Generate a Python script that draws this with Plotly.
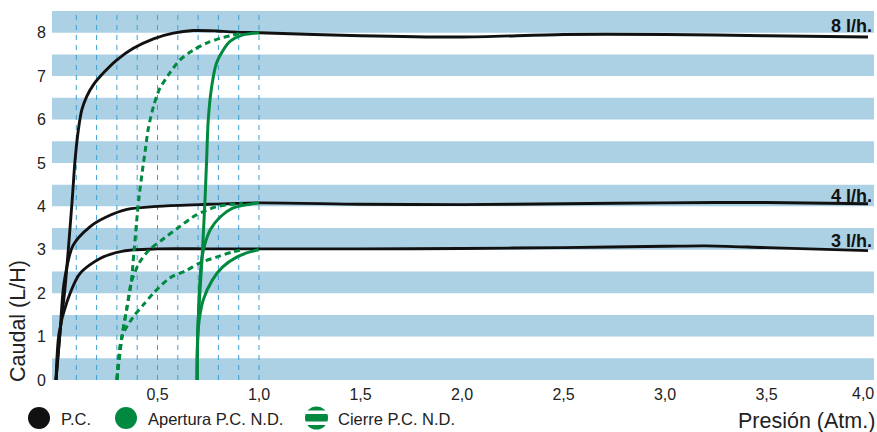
import plotly.graph_objects as go

# ---- data ----
pc8_x = [0.0, 0.02, 0.044, 0.079, 0.094, 0.11, 0.127, 0.151, 0.184, 0.233, 0.299, 0.381, 0.48, 0.578, 0.676, 0.79, 0.857, 1.0, 1.5, 2.0, 2.5, 3.0, 3.5, 4.0]
pc8_y = [0.0, 1.1, 2.1, 4.1, 5.07, 5.76, 6.22, 6.53, 6.80, 7.07, 7.37, 7.64, 7.86, 7.99, 8.05, 8.04, 8.02, 8.0, 7.93, 7.9, 7.96, 7.96, 7.93, 7.9]
pc4_x = [0.0, 0.02, 0.04, 0.084, 0.167, 0.25, 0.35, 0.5, 0.71, 1.0, 1.5, 2.0, 2.5, 3.0, 3.5, 4.0]
pc4_y = [0.0, 1.1, 2.25, 3.1, 3.53, 3.76, 3.93, 4.0, 4.04, 4.08, 4.05, 4.04, 4.06, 4.08, 4.09, 4.06]
pc3_x = [0.0, 0.015, 0.054, 0.118, 0.217, 0.33, 0.5, 0.75, 1.0, 1.5, 2.0, 2.5, 3.0, 3.2, 3.5, 4.0]
pc3_y = [0.0, 1.08, 1.8, 2.45, 2.8, 2.97, 3.02, 3.02, 3.02, 3.02, 3.03, 3.05, 3.08, 3.09, 3.05, 2.98]

ap8_x = [0.695, 0.70, 0.72, 0.734, 0.742, 0.75, 0.767, 0.79, 0.824, 0.857, 0.92, 1.0]
ap8_y = [0.0, 1.3, 2.85, 4.15, 5.07, 5.99, 6.76, 7.29, 7.6, 7.8, 7.95, 8.0]
ap4_x = [0.695, 0.70, 0.72, 0.76, 0.81, 0.87, 0.955, 1.0]
ap4_y = [0.0, 1.3, 2.85, 3.46, 3.76, 3.96, 4.05, 4.08]
ap3_x = [0.695, 0.70, 0.725, 0.77, 0.82, 0.89, 0.955, 1.0]
ap3_y = [0.0, 1.15, 1.84, 2.3, 2.6, 2.83, 2.95, 3.0]

ci8_x = [0.30, 0.325, 0.35, 0.37, 0.385, 0.40, 0.41, 0.425, 0.44, 0.455, 0.48, 0.51, 0.56, 0.61, 0.676, 0.742, 0.808, 0.857, 0.92]
ci8_y = [0.0, 1.0, 1.68, 2.23, 3.0, 3.8, 4.25, 4.8, 5.3, 5.8, 6.3, 6.7, 7.07, 7.37, 7.6, 7.76, 7.87, 7.93, 8.0]
ci4_x = [0.30, 0.325, 0.35, 0.37, 0.41, 0.46, 0.52, 0.60, 0.69, 0.79, 0.87, 0.92]
ci4_y = [0.0, 1.0, 1.68, 2.23, 2.7, 3.0, 3.22, 3.5, 3.8, 3.99, 4.05, 4.07]
ci3_x = [0.30, 0.325, 0.38, 0.43, 0.48, 0.56, 0.645, 0.71, 0.79, 0.87, 0.92]
ci3_y = [0.0, 1.0, 1.45, 1.73, 2.0, 2.35, 2.53, 2.7, 2.83, 2.95, 3.0]

x_tickvals = [0.5, 1.0, 1.5, 2.0, 2.5, 3.0, 3.5]
x_ticktext = ["0,5", "1,0", "1,5", "2,0", "2,5", "3,0", "3,5"]
x_last_tick = "4,0"
y_tickvals = [0, 1, 2, 3, 4, 5, 6, 7, 8]
grid_x = [0.1, 0.2, 0.3, 0.4, 0.5, 0.6, 0.7, 0.8, 0.9, 1.0]
flow_labels = ["8 l/h.", "4 l/h.", "3 l/h."]
flow_label_y = [7.97, 4.06, 3.02]
legend_names = ["P.C.", "Apertura P.C. N.D.", "Cierre P.C. N.D."]

BLACK = "#111111"
GREEN = "#00893f"
BAND = "#acd1e5"
GRID = "#3da0d2"
TXT = "#222222"
FONT = "Liberation Sans, Arial, sans-serif"

W, H = 877, 432
ML, MR, MT, MB = 52, 3, 11, 52
PW, PH = W - ML - MR, H - MT - MB


def px(xp):
    return (xp - ML) / PW


def py(yp):
    return (H - MB - yp) / PH


fig = go.Figure()

for xs, ys in [(pc8_x, pc8_y), (pc4_x, pc4_y), (pc3_x, pc3_y)]:
    fig.add_trace(go.Scatter(x=xs, y=ys, mode="lines",
                             line=dict(color=BLACK, width=2.9, shape="spline", smoothing=0.8),
                             showlegend=False, hoverinfo="skip"))
for xs, ys in [(ci8_x, ci8_y), (ci4_x, ci4_y), (ci3_x, ci3_y)]:
    fig.add_trace(go.Scatter(x=xs, y=ys, mode="lines",
                             line=dict(color=GREEN, width=3, shape="spline", smoothing=0.8,
                                       dash="6px,4px"),
                             showlegend=False, hoverinfo="skip"))
for xs, ys in [(ap8_x, ap8_y), (ap4_x, ap4_y), (ap3_x, ap3_y)]:
    fig.add_trace(go.Scatter(x=xs, y=ys, mode="lines",
                             line=dict(color=GREEN, width=3, shape="spline", smoothing=0.8),
                             showlegend=False, hoverinfo="skip"))

shapes = []
for n in y_tickvals:
    shapes.append(dict(type="rect", xref="paper", yref="y", x0=0, x1=1, y0=n, y1=n + 0.5,
                       fillcolor=BAND, line=dict(width=0), layer="below"))
for gx in grid_x:
    shapes.append(dict(type="line", xref="x", yref="paper", x0=gx, x1=gx, y0=0, y1=1,
                       line=dict(color=GRID, width=1, dash="5px,5px"), layer="below"))


def circle(cx, cy, r, color):
    return dict(type="circle", xref="paper", yref="paper",
                x0=px(cx - r), x1=px(cx + r), y0=py(cy + r), y1=py(cy - r),
                fillcolor=color, line=dict(width=0))


shapes.append(circle(39, 418, 11, BLACK))
shapes.append(circle(126, 418, 11, GREEN))
shapes.append(circle(316.5, 418, 11.5, GREEN))
for y0p, y1p in [(410.5, 414), (421.5, 425)]:
    shapes.append(dict(type="rect", xref="paper", yref="paper",
                       x0=px(303), x1=px(330), y0=py(y1p), y1=py(y0p),
                       fillcolor="white", line=dict(width=0)))

annotations = []
for txt, yv in zip(flow_labels, flow_label_y):
    annotations.append(dict(text="<b>" + txt + "</b>", xref="paper", yref="y",
                            x=px(873), y=yv, xanchor="right", yanchor="bottom",
                            showarrow=False, borderpad=0, yshift=-3,
                            font=dict(family=FONT, size=18, color=BLACK)))

legend_x = [60, 147, 337]
for name, lx in zip(legend_names, legend_x):
    annotations.append(dict(text=name, xref="paper", yref="paper", x=px(lx), y=py(419),
                            xanchor="left", yanchor="middle", showarrow=False, borderpad=0,
                            font=dict(family=FONT, size=16.5, color=TXT)))

# last x tick label, kept inside the page like the reference
annotations.append(dict(text=x_last_tick, xref="paper", yref="paper", x=px(875), y=py(393),
                        xanchor="right", yanchor="middle", showarrow=False, borderpad=0,
                        font=dict(family=FONT, size=16, color=TXT)))

annotations.append(dict(text="Caudal (L/H)", xref="paper", yref="paper", x=px(18), y=py(321),
                        xanchor="center", yanchor="middle", textangle=-90, showarrow=False,
                        font=dict(family=FONT, size=21.5, color=TXT)))
annotations.append(dict(text="Presión (Atm.)", xref="paper", yref="paper", x=px(876), y=py(421),
                        xanchor="right", yanchor="middle", showarrow=False, borderpad=0,
                        font=dict(family=FONT, size=21.5, color=TXT)))

fig.update_layout(
    width=W, height=H,
    margin=dict(l=ML, r=MR, t=MT, b=MB, pad=0),
    paper_bgcolor="white", plot_bgcolor="white",
    shapes=shapes, annotations=annotations,
    showlegend=False,
    xaxis=dict(range=[-4 / 203, 818 / 203], tickvals=x_tickvals, ticktext=x_ticktext,
               showgrid=False, zeroline=False, showline=False, ticks="",
               ticklabelstandoff=3,
               tickfont=dict(family=FONT, size=16, color=TXT), fixedrange=True),
    yaxis=dict(range=[0, 8.5], tickvals=y_tickvals, showgrid=False, zeroline=False,
               showline=False, ticks="", ticklabelstandoff=5,
               tickfont=dict(family=FONT, size=16, color=TXT), fixedrange=True),
)

fig.write_html("out.html", config={"displayModeBar": False},
               post_script="document.body.style.margin='0';document.body.style.overflow='hidden';")
